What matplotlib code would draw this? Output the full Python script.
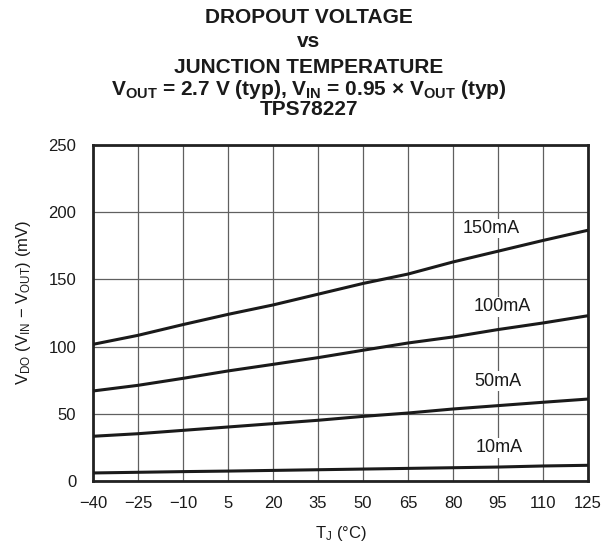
import matplotlib
matplotlib.use("Agg")
import matplotlib.pyplot as plt

plt.rcParams['font.family'] = ['Liberation Sans', 'DejaVu Sans']
plt.rcParams['mathtext.fontset'] = 'custom'
plt.rcParams['mathtext.default'] = 'regular'
plt.rcParams['axes.unicode_minus'] = True

temps = [-40, -25, -10, 5, 20, 35, 50, 65, 80, 95, 110, 125]
v150 = [101.7, 108.4, 116.4, 124.0, 131.0, 139.0, 147.0, 154.0, 163.0, 171.0, 179.0, 186.6]
v100 = [67.0, 71.2, 76.4, 81.9, 86.8, 91.8, 97.3, 102.7, 107.2, 112.7, 117.6, 123.0]
v50 = [33.3, 35.2, 37.7, 40.2, 42.7, 45.2, 48.1, 50.6, 53.6, 56.1, 58.6, 61.0]
v10 = [6.0, 6.5, 7.0, 7.4, 7.9, 8.4, 8.9, 9.4, 9.9, 10.4, 11.2, 11.7]
series_labels = ["150mA", "100mA", "50mA", "10mA"]
label_pos = [(92.7, 187.9), (96.3, 129.8), (95.0, 74.4), (95.3, 24.6)]
yticks = [0, 50, 100, 150, 200, 250]

fig = plt.figure(figsize=(6.05, 5.46), dpi=100)
ax = fig.add_axes([0.1537, 0.119, 0.8183, 0.6154])

for ys in (v150, v100, v50, v10):
    ax.plot(temps, ys, color='#1a1a1a', lw=2.2, zorder=3, solid_capstyle='butt')

for lab, (x, y) in zip(series_labels, label_pos):
    ax.text(x, y, lab, ha='center', va='center', fontsize=13, color='#1a1a1a', zorder=4,
            bbox=dict(facecolor='white', edgecolor='none', pad=1.0))

ax.set_xlim(-40, 125)
ax.set_ylim(0, 250)
ax.set_xticks(temps)
ax.set_yticks(yticks)
ax.grid(True, color='#606060', lw=0.9, zorder=1)
ax.tick_params(length=0, labelsize=12, colors='#1a1a1a')
ax.tick_params(axis='y', pad=12)
ax.tick_params(axis='x', pad=11)
for s in ax.spines.values():
    s.set_linewidth(2.0)
    s.set_color('#222222')

ax.set_xlabel(r"T$_J$ (°C)", fontsize=12, color='#1a1a1a')
ax.set_ylabel(r"V$_{DO}$ (V$_{IN}$ − V$_{OUT}$) (mV)", fontsize=12, color='#1a1a1a')
ax.xaxis.set_label_coords(0.5, -0.128)
ax.yaxis.set_label_coords(-0.121, 0.53)

title_lines = ["DROPOUT VOLTAGE", "vs", "JUNCTION TEMPERATURE",
               r"V$_{OUT}$ = 2.7 V (typ), V$_{IN}$ = 0.95 × V$_{OUT}$ (typ)", "TPS78227"]
title_base = [23, 47, 73, 95, 115]
for t, y in zip(title_lines, title_base):
    fig.text(0.51, 1 - y / 546, t, ha='center', va='baseline', fontsize=15,
             fontweight='bold', color='#1a1a1a')

fig.savefig("out.png", dpi=100)
